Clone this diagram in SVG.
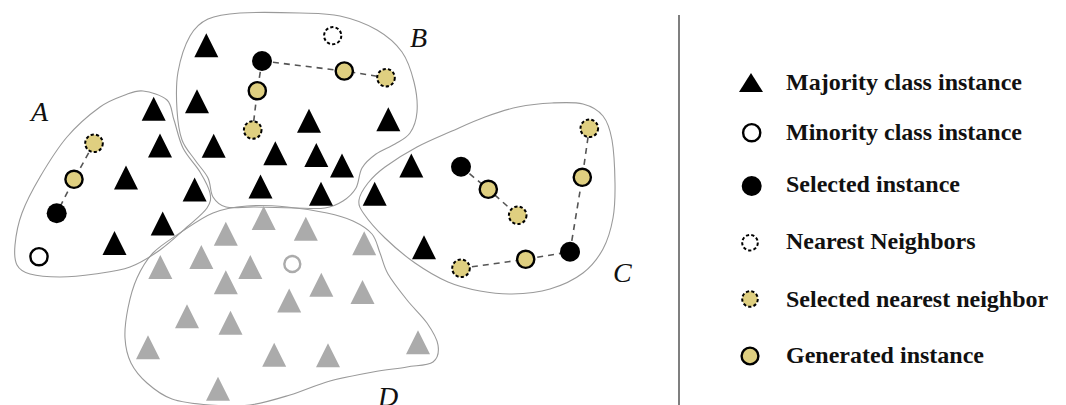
<svg xmlns="http://www.w3.org/2000/svg" xmlns:xlink="http://www.w3.org/1999/xlink" width="1066" height="405" viewBox="0 0 1066 405">
  <style>
    .region { fill: none; stroke: #9a9a9a; stroke-width: 1.1; }
    .link { stroke: #555; stroke-width: 1.6; stroke-dasharray: 6 5; fill: none; }
    .maj { fill: #000; }
    .majg { fill: #ababab; }
    .min { fill: #fff; stroke: #000; stroke-width: 2.4; }
    .ming { fill: #fff; stroke: #ababab; stroke-width: 2.4; }
    .sel { fill: #000; }
    .nn { fill: #fff; stroke: #000; stroke-width: 2; stroke-dasharray: 3.2 2.2; }
    .snn { fill: #dfcf80; stroke: #000; stroke-width: 2; stroke-dasharray: 3.2 2.2; }
    .gen { fill: #dfcf80; stroke: #000; stroke-width: 2.4; }
    .lbl { font-family: "Liberation Serif", "Times New Roman", serif; font-style: italic; font-size: 28px; fill: #111; }
    .leg { font-family: "Liberation Serif", "Times New Roman", serif; font-weight: bold; font-size: 24px; fill: #111; }
  </style>
  <defs>
    <path id="tri" d="M0,-12 L12,12 L-12,12 Z"/>
    <path id="tri-small" d="M0,-9.5 L12,9.5 L-12,9.5 Z"/>
  </defs>

  <!-- cluster outlines -->
  <g id="regions">
    <path id="region-A" class="region" d="M143,91 C150,91.8 161.8,95.2 167,100 S171.3,112 174,120 S178.7,139.3 183,148 S195.5,164.5 200,172 S208.8,187 210,193 S210.8,202.3 207,208 S194.8,220 187,227 S169.5,243.3 160,250 S140.8,263 130,267 S106.7,272.3 95,274 S70.8,277 60,277 S37.2,276 30,274 S19.5,269.8 17,265 S14.2,253.7 15,245 S17.8,224.3 22,213 S32.5,189.7 40,177 S57,148.7 67,137 S90.3,114 100,107 S117.8,97.7 125,95 S136,90.2 143,91 Z"/>
    <path id="region-B" class="region" d="M190,36 C195,27.2 199.7,22.8 208,19 S224.7,14 240,13 S283.3,12.5 300,13 S327.2,13.2 340,16 S366.7,24 377,30 S395.8,43.3 402,52 S411.5,72 414,82 S417.7,103.5 417,112 S413.7,127.7 410,133 S400.7,140.5 395,144 S381.5,150 376,154 S365.3,162.3 362,168 S359.2,182.5 356,188 S348.2,197.7 343,201 S333,206.8 325,208 S306.7,208.2 295,208 S266.5,207.2 255,207 S233,208.7 226,207 S216,201.8 213,197 S211,184.2 208,178 S199.3,166.3 195,160 S185,148.3 182,140 S177.7,121.3 177,110 S175.8,84.3 178,72 S185,44.8 190,36 Z"/>
    <path id="region-C" class="region" d="M583,104 C591.5,106.2 598.2,110 603,116 S610,128.8 612,140 S614.8,170 615,183 S615,207 613,218 S608,239.8 603,249 S591.8,266.3 583,273 S561.8,285.5 550,289 S523.7,293.7 512,294 S490.7,293 480,291 S458.8,286.7 448,282 S425.5,270.3 415,263 S393.5,246.2 385,238 S368.3,220.3 364,214 S358.3,205.2 359,200 S363.7,188.5 368,183 S376.8,173 385,167 S405.8,153 417,147 S440.7,136 452,131 S474,121 485,117 S506.8,109.3 518,107 S541.2,103.5 552,103 S574.5,101.8 583,104 Z"/>
    <path id="region-D" class="region" d="M213,213 C224.2,208.5 234.7,207 247,206 S273.7,205.8 287,207 S316,210.7 327,213 S345.5,217.5 353,221 S367.5,228.7 372,234 S377.3,246.3 380,253 S383.5,266.2 388,274 S400.5,291.8 407,300 S421.8,315.5 427,323 S437,338.5 438,345 S438.2,358.3 433,362 S417,365.3 407,367 S385.8,369.7 373,372 S343.8,377.2 330,381 S303.3,391 290,395 S263.3,403.3 250,405 S223,406 210,405 S182.5,402.7 172,399 S153.8,389 147,383 S134.7,370.5 131,363 S125.5,347.2 125,338 S126,318 128,308 S132.8,287.2 137,278 S145.8,260.5 153,253 S170,239.7 180,233 S201.8,217.5 213,213 Z"/>
  </g>

  <!-- cluster labels -->
  <g id="labels">
    <text class="lbl" x="31" y="121">A</text>
    <text class="lbl" x="410" y="47">B</text>
    <text class="lbl" x="613" y="282">C</text>
    <text class="lbl" x="378" y="406">D</text>
  </g>

  <!-- interpolation segments -->
  <g id="connectors">
    <polyline class="link" points="94,143.3 74,179.3 56.7,213.3"/>
    <polyline class="link" points="262,61 344.3,71 386,77.7"/>
    <polyline class="link" points="262,61 257.3,90.7 252.7,130"/>
    <polyline class="link" points="461,166.7 488.3,189.3 517.7,215.3"/>
    <polyline class="link" points="461,268.3 525.7,259.3 570,251.7"/>
    <polyline class="link" points="570,251.7 582.3,177.3 589.3,128.3"/>
  </g>

  <!-- cluster A -->
  <g id="cluster-A">
    <use href="#tri" class="maj" x="153.7" y="108.7"/>
    <use href="#tri" class="maj" x="160" y="145.5"/>
    <use href="#tri" class="maj" x="126" y="177.5"/>
    <use href="#tri" class="maj" x="194.6" y="189.5"/>
    <use href="#tri" class="maj" x="162.7" y="223.5"/>
    <use href="#tri" class="maj" x="114.5" y="243"/>
    <circle class="snn" cx="94" cy="143.3" r="8.8"/>
    <circle class="gen" cx="74" cy="179.3" r="8.6"/>
    <circle class="sel" cx="56.7" cy="213.3" r="10"/>
    <circle class="min" cx="39" cy="256.7" r="8.6"/>
  </g>

  <!-- cluster B -->
  <g id="cluster-B">
    <use href="#tri" class="maj" x="206.3" y="45.3"/>
    <use href="#tri" class="maj" x="197" y="101.3"/>
    <use href="#tri" class="maj" x="213.7" y="145.8"/>
    <use href="#tri" class="maj" x="309" y="120.8"/>
    <use href="#tri" class="maj" x="388.3" y="119.2"/>
    <use href="#tri" class="maj" x="275.3" y="153.3"/>
    <use href="#tri" class="maj" x="316.3" y="155"/>
    <use href="#tri" class="maj" x="342" y="165.5"/>
    <use href="#tri" class="maj" x="260.5" y="186.5"/>
    <use href="#tri" class="maj" x="321" y="193.8"/>
    <circle class="nn" cx="332.7" cy="35.7" r="8.6"/>
    <circle class="sel" cx="262" cy="61" r="10"/>
    <circle class="gen" cx="344.3" cy="71" r="8.6"/>
    <circle class="snn" cx="386" cy="77.7" r="8.8"/>
    <circle class="gen" cx="257.3" cy="90.7" r="8.6"/>
    <circle class="snn" cx="252.7" cy="130" r="8.8"/>
  </g>

  <!-- cluster C -->
  <g id="cluster-C">
    <use href="#tri" class="maj" x="411.3" y="165.5"/>
    <use href="#tri" class="maj" x="374.7" y="193.8"/>
    <use href="#tri" class="maj" x="424" y="247.2"/>
    <circle class="sel" cx="461" cy="166.7" r="10"/>
    <circle class="gen" cx="488.3" cy="189.3" r="8.6"/>
    <circle class="snn" cx="517.7" cy="215.3" r="8.8"/>
    <circle class="snn" cx="589.3" cy="128.3" r="8.8"/>
    <circle class="gen" cx="582.3" cy="177.3" r="8.6"/>
    <circle class="sel" cx="570" cy="251.7" r="10"/>
    <circle class="gen" cx="525.7" cy="259.3" r="8.6"/>
    <circle class="snn" cx="461" cy="268.3" r="8.8"/>
  </g>

  <!-- cluster D -->
  <g id="cluster-D">
    <use href="#tri" class="majg" x="263.7" y="218"/>
    <use href="#tri" class="majg" x="225.8" y="233.7"/>
    <use href="#tri" class="majg" x="305.8" y="228.7"/>
    <use href="#tri" class="majg" x="364.2" y="243.3"/>
    <use href="#tri" class="majg" x="201.3" y="257"/>
    <use href="#tri" class="majg" x="160.3" y="267"/>
    <use href="#tri" class="majg" x="250.3" y="267"/>
    <use href="#tri" class="majg" x="225.8" y="282.2"/>
    <use href="#tri" class="majg" x="321.3" y="284.7"/>
    <use href="#tri" class="majg" x="362.5" y="292"/>
    <use href="#tri" class="majg" x="289.2" y="300.5"/>
    <use href="#tri" class="majg" x="187" y="316.2"/>
    <use href="#tri" class="majg" x="230.5" y="322.8"/>
    <use href="#tri" class="majg" x="148" y="347.2"/>
    <use href="#tri" class="majg" x="274.2" y="354.7"/>
    <use href="#tri" class="majg" x="328" y="355.3"/>
    <use href="#tri" class="majg" x="418" y="342.2"/>
    <use href="#tri" class="majg" x="218" y="388.8"/>
    <circle class="ming" cx="292.3" cy="264" r="8"/>
  </g>

  <!-- divider -->
  <line x1="679" y1="15" x2="679" y2="405" stroke="#555" stroke-width="1.5"/>

  <!-- legend -->
  <g id="legend">
    <g id="legend-majority">
      <use href="#tri-small" class="maj" x="751" y="82.5"/>
      <text class="leg" x="786" y="90">Majority class instance</text>
    </g>
    <g id="legend-minority">
      <circle class="min" cx="751.7" cy="132.7" r="8.6"/>
      <text class="leg" x="786" y="140">Minority class instance</text>
    </g>
    <g id="legend-selected">
      <circle class="sel" cx="751.7" cy="186" r="10"/>
      <text class="leg" x="786" y="191.7">Selected instance</text>
    </g>
    <g id="legend-nn">
      <circle class="nn" cx="750" cy="242.7" r="7.8"/>
      <text class="leg" x="786" y="249.3">Nearest Neighbors</text>
    </g>
    <g id="legend-snn">
      <circle class="snn" cx="750" cy="299" r="7.8"/>
      <text class="leg" x="786" y="306.7">Selected nearest neighbor</text>
    </g>
    <g id="legend-generated">
      <circle class="gen" cx="750" cy="356" r="8.4"/>
      <text class="leg" x="786" y="363.3">Generated instance</text>
    </g>
  </g>
</svg>
